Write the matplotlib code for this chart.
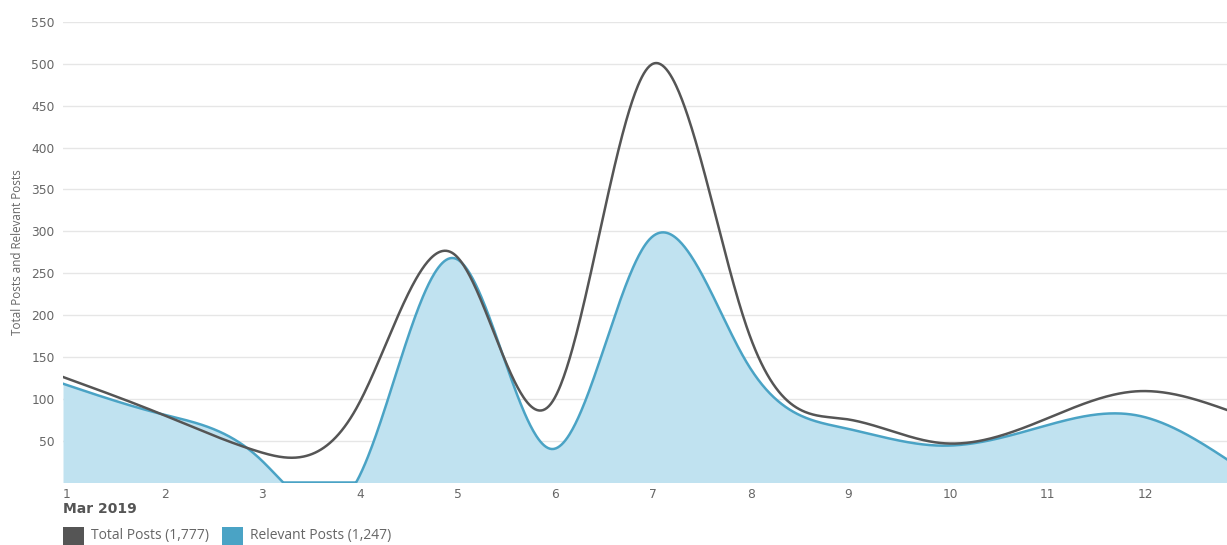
import numpy as np
import matplotlib
matplotlib.use("Agg")
import matplotlib.pyplot as plt
from matplotlib.patches import Rectangle

# ---- data ----
days = [1, 2, 3, 4, 5, 6, 7, 8, 9, 10, 11, 12, 13]
total_posts = [126, 82, 37, 88, 273, 95, 497, 185, 76, 47, 73, 109, 83]
relevant_posts = [118, 82, 30, 0, 268, 40, 290, 143, 65, 44, 66, 80, 21]
x_tick_labels = ["1", "2", "3", "4", "5", "6", "7", "8", "9", "10", "11", "12"]
y_ticks = [50, 100, 150, 200, 250, 300, 350, 400, 450, 500, 550]
month_label = "Mar 2019"
ylabel = "Total Posts and Relevant Posts"
legend_labels = ["Total Posts (1,777)", "Relevant Posts (1,247)"]


def natural_spline(x, y, xs):
    x = np.asarray(x, float)
    y = np.asarray(y, float)
    n = len(x)
    h = np.diff(x)
    A = np.zeros((n, n))
    b = np.zeros(n)
    A[0, 0] = 1
    A[-1, -1] = 1
    for i in range(1, n - 1):
        A[i, i - 1] = h[i - 1]
        A[i, i] = 2 * (h[i - 1] + h[i])
        A[i, i + 1] = h[i]
        b[i] = 6 * ((y[i + 1] - y[i]) / h[i] - (y[i] - y[i - 1]) / h[i - 1])
    M = np.linalg.solve(A, b)
    idx = np.clip(np.searchsorted(x, xs) - 1, 0, n - 2)
    x0 = x[idx]; x1 = x[idx + 1]; hh = x1 - x0
    t0 = x1 - xs; t1 = xs - x0
    return (M[idx] * t0 ** 3 / (6 * hh) + M[idx + 1] * t1 ** 3 / (6 * hh)
            + (y[idx] / hh - M[idx] * hh / 6) * t0
            + (y[idx + 1] / hh - M[idx + 1] * hh / 6) * t1)


W, H = 1227, 545
fig = plt.figure(figsize=(W / 100, H / 100), dpi=100)
left, right, bottom, top = 63, 1227, 482.5, 22
ax = fig.add_axes([left / W, 1 - bottom / H, (right - left) / W, (bottom - top) / H])

x_max = 1 + (right - left) / 97.7
xs = np.linspace(1, 13, 1200)
tot_s = natural_spline(days, total_posts, xs)
rel_s = np.maximum(natural_spline(days, relevant_posts, xs), 0)

ax.fill_between(xs, 0, rel_s, color="#c0e2f0", lw=0, zorder=2)
ax.plot(xs, rel_s, color="#4aa3c5", lw=1.8, zorder=3)
ax.plot(xs, tot_s, color="#555555", lw=1.8, zorder=4)

ax.set_xlim(1, x_max)
ax.set_ylim(0, 550)
ax.set_yticks(y_ticks)
ax.set_yticklabels([str(v) for v in y_ticks], fontsize=8.8, color="#666666",
                   family="DejaVu Sans")
ax.set_xticks(range(1, 13))
ax.set_xticklabels(x_tick_labels, fontsize=8.8, color="#666666", family="DejaVu Sans",
                   ha="left")
ax.tick_params(axis="both", length=0)
ax.tick_params(axis="y", pad=6)
ax.tick_params(axis="x", pad=4)
ax.grid(axis="y", color="#e6e6e6", lw=1, zorder=0)
ax.set_axisbelow(True)
for s in ax.spines.values():
    s.set_visible(False)

fig.text(18 / W, 1 - 252 / H, ylabel, rotation=90, ha="center", va="center",
         fontsize=8.4, color="#666666", family="Open Sans")
fig.text(63 / W, 1 - 509 / H, month_label, ha="left", va="center",
         fontsize=10, fontweight="bold", color="#555555", family="DejaVu Sans")

# legend
colors = ["#555555", "#4aa3c5"]
xpos = [63, 222]
for c, xp, lab in zip(colors, xpos, legend_labels):
    fig.patches.append(Rectangle((xp / W, 1 - 545 / H), 21 / W, 18 / H,
                                 transform=fig.transFigure, color=c, lw=0))
    fig.text((xp + 28) / W, 1 - 536 / H, lab, ha="left", va="center",
             fontsize=10, color="#666666", family="Open Sans")

fig.savefig("out.png", dpi=100)
